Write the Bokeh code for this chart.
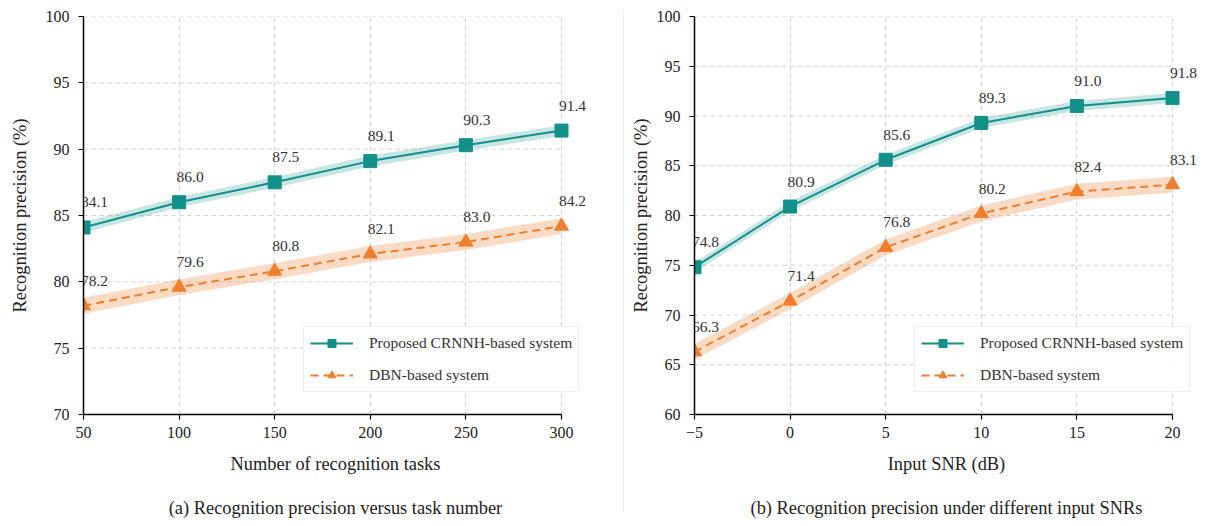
from bokeh.plotting import figure
from bokeh.models import (Range1d, ColumnDataSource, LabelSet, Legend, LegendItem,
                          FixedTicker, Div)
from bokeh.layouts import row
from bokeh.core.properties import value
from bokeh.embed import file_html
from bokeh.resources import INLINE

# ---------------- data ----------------
tasks = [50, 100, 150, 200, 250, 300]
crnnh_tasks = [84.1, 86.0, 87.5, 89.1, 90.3, 91.4]
dbn_tasks = [78.2, 79.6, 80.8, 82.1, 83.0, 84.2]

snr = [-5, 0, 5, 10, 15, 20]
crnnh_snr = [74.8, 80.9, 85.6, 89.3, 91.0, 91.8]
dbn_snr = [66.3, 71.4, 76.8, 80.2, 82.4, 83.1]

# half-widths of the shaded uncertainty bands
band_crnnh_tasks = 0.4
band_dbn_tasks = 0.6
band_crnnh_snr = 0.5
band_dbn_snr = 0.8

ticks_tasks_x = [50, 100, 150, 200, 250, 300]
ticks_tasks_y = [70, 75, 80, 85, 90, 95, 100]
ticks_snr_x = [-5, 0, 5, 10, 15, 20]
ticks_snr_y = [60, 65, 70, 75, 80, 85, 90, 95, 100]

label_crnnh = "Proposed CRNNH-based system"
label_dbn = "DBN-based system"
xlabel_a = "Number of recognition tasks"
xlabel_b = "Input SNR (dB)"
ylabel = "Recognition precision (%)"
caption_a = "(a) Recognition precision versus task number"
caption_b = "(b) Recognition precision under different input SNRs"

TEAL = "#13908a"
ORANGE = "#ef7f2f"
FONT = "Liberation Serif"
TXT = "#222222"

AXIS_W = 478      # pixel length of the drawn axes
EXTRA = 26        # extra room at the right so labels / legend are not clipped
FRAME_H = 398
FIG_H = 526


def make(x, a, b, ba, bb, xt, yt, xlabel, caption, bl, br,
         ylab_standoff, legend_x, overrides=None):
    x0, x1 = xt[0], xt[-1]
    y0, y1 = yt[0], yt[-1]
    xext = x1 + (x1 - x0) * EXTRA / AXIS_W
    width = bl + AXIS_W + EXTRA + br
    p = figure(width=width, height=FIG_H, output_backend="svg", toolbar_location=None,
               x_range=Range1d(x0, xext), y_range=Range1d(y0, y1),
               min_border_left=bl, min_border_right=br, min_border_top=16,
               min_border_bottom=FIG_H - 16 - FRAME_H)
    p.outline_line_color = None
    p.background_fill_color = "white"
    p.border_fill_color = "white"

    # grid lines limited to the axis extent
    p.xgrid.grid_line_color = "#cfd0d8"
    p.xgrid.grid_line_dash = "4 4"
    p.xgrid.grid_line_width = 1
    p.ygrid.grid_line_color = None
    p.segment(x0=[x0] * len(yt), x1=[x1] * len(yt), y0=yt, y1=yt,
              line_color="#cfd0d8", line_dash="4 4", line_width=1)

    src = ColumnDataSource(dict(
        x=x, a=a, b=b,
        a_lo=[v - ba for v in a], a_hi=[v + ba for v in a],
        b_lo=[v - bb for v in b], b_hi=[v + bb for v in b],
        a_t=["%.1f" % v for v in a], b_t=["%.1f" % v for v in b]))

    p.varea(x="x", y1="a_lo", y2="a_hi", source=src, fill_color=TEAL, fill_alpha=0.2,
            hatch_pattern="/", hatch_color=TEAL, hatch_alpha=0.12, hatch_scale=6)
    p.varea(x="x", y1="b_lo", y2="b_hi", source=src, fill_color=ORANGE, fill_alpha=0.25,
            hatch_pattern="/", hatch_color=ORANGE, hatch_alpha=0.12, hatch_scale=6)

    la = p.line("x", "a", source=src, line_color=TEAL, line_width=2)
    sa = p.scatter("x", "a", source=src, marker="square", size=13,
                   fill_color=TEAL, line_color=TEAL)
    lb = p.line("x", "b", source=src, line_color=ORANGE, line_width=2, line_dash="8 5")
    sb = p.scatter("x", "b", source=src, marker="triangle", size=14,
                   fill_color=ORANGE, line_color=ORANGE)

    for col, ycol in (("a_t", "a"), ("b_t", "b")):
        p.add_layout(LabelSet(x="x", y=ycol, text=col, source=src, x_offset=11, y_offset=25,
                              text_align="center", text_baseline="middle",
                              text_font=value(FONT), text_font_size="15.5px",
                              text_color="#333333"))

    # axes
    for ax in (p.xaxis, p.yaxis):
        ax.axis_line_color = "black"
        ax.axis_line_width = 1.5
        ax.major_tick_line_color = "black"
        ax.major_tick_line_width = 1.2
        ax.major_tick_in = 0
        ax.major_tick_out = 5
        ax.minor_tick_line_color = None
        ax.major_label_text_font = FONT
        ax.major_label_text_font_size = "16px"
        ax.major_label_text_color = TXT
        ax.axis_label_text_font = FONT
        ax.axis_label_text_font_size = "18.4px"
        ax.axis_label_text_font_style = "normal"
        ax.axis_label_text_color = TXT
    p.xaxis.bounds = (x0, x1)
    p.xaxis.ticker = FixedTicker(ticks=xt)
    p.yaxis.ticker = FixedTicker(ticks=yt)
    p.xgrid.ticker = FixedTicker(ticks=xt)
    if overrides:
        p.xaxis.major_label_overrides = overrides
    # axis title, then (two lines lower) the sub-figure caption
    p.xaxis.axis_label = xlabel + "\n\n" + caption
    p.xaxis.axis_label_text_line_height = 1.1
    p.yaxis.axis_label = ylabel
    p.xaxis.major_label_standoff = 7
    p.yaxis.major_label_standoff = 9
    p.xaxis.axis_label_standoff = 13
    p.yaxis.axis_label_standoff = ylab_standoff

    legend = Legend(items=[LegendItem(label=label_crnnh, renderers=[la, sa]),
                           LegendItem(label=label_dbn, renderers=[lb, sb])],
                    location=(legend_x, 22))
    legend.label_text_font = FONT
    legend.label_text_font_size = "15.5px"
    legend.label_text_color = "#333333"
    legend.glyph_width = 43
    legend.glyph_height = 20
    legend.label_height = 20
    legend.label_standoff = 16
    legend.spacing = 12
    legend.padding = 6
    legend.border_line_color = "#e2e2e2"
    legend.border_line_width = 1
    legend.background_fill_alpha = 0.85
    p.add_layout(legend, "center")
    return p


p1 = make(tasks, crnnh_tasks, dbn_tasks, band_crnnh_tasks, band_dbn_tasks,
          ticks_tasks_x, ticks_tasks_y, xlabel_a, caption_a,
          83, 36, 13, 220)
p2 = make(snr, crnnh_snr, dbn_snr, band_crnnh_snr, band_dbn_snr,
          ticks_snr_x, ticks_snr_y, xlabel_b, caption_b,
          70, 1, 3, 220, overrides={-5: "\u22125"})

divider = Div(text="", width=1, height=502, margin=0,
              styles={"background-color": "#efefef", "margin-top": "10px"})

layout = row(p1, divider, p2, spacing=0)

with open("out.html", "w") as f:
    f.write(file_html(layout, INLINE))
